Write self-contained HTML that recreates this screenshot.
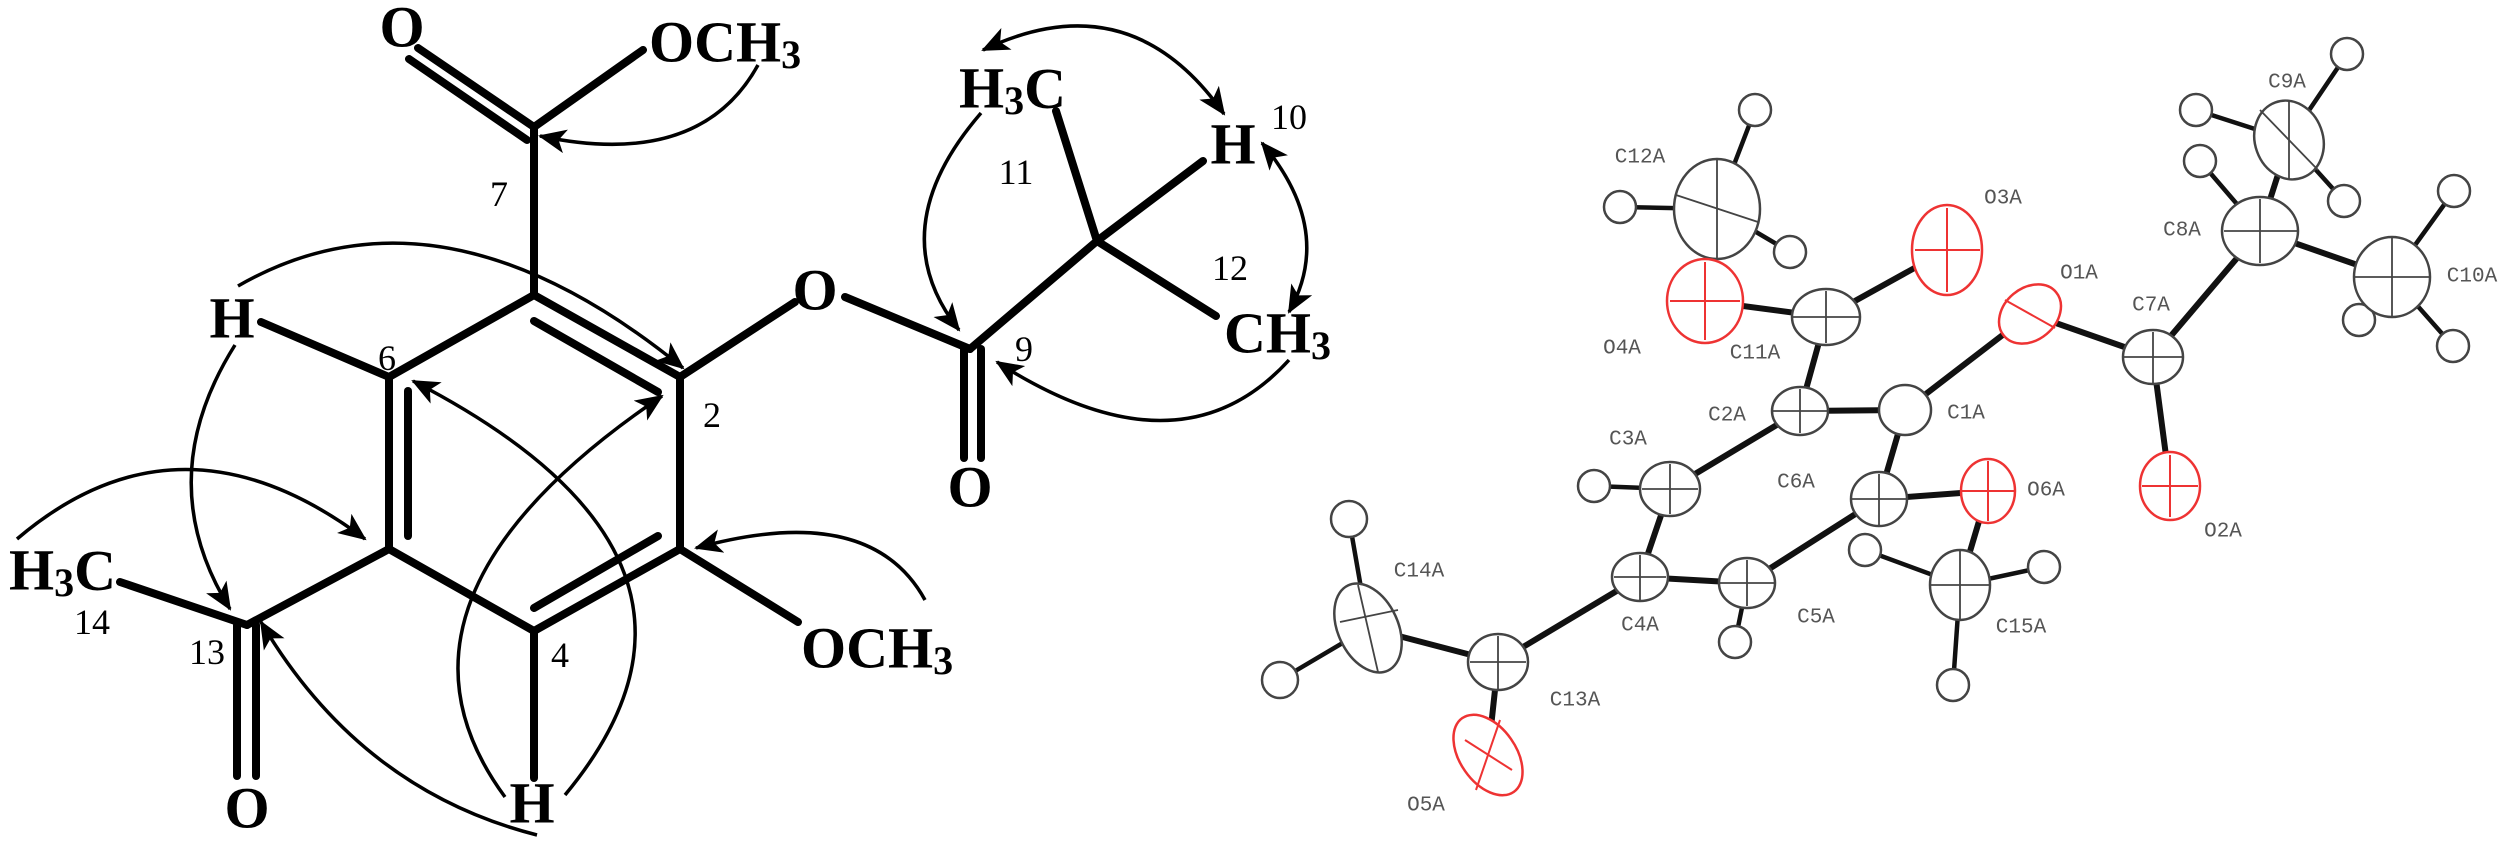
<!DOCTYPE html>
<html><head><meta charset="utf-8"><style>
html,body{margin:0;padding:0;background:#fff;}
svg{display:block;}
.b{stroke:#000;stroke-width:8;stroke-linecap:round;fill:none;}
.a{stroke:#000;stroke-width:3.5;fill:none;}
.at{font-family:"Liberation Serif",serif;font-weight:bold;font-size:58px;fill:#000;}
.n{font-family:"Liberation Serif",serif;font-size:36px;fill:#000;}
.ol{font-family:"Liberation Mono",monospace;font-size:21px;fill:#555;}
.e{fill:#fff;stroke:#444;stroke-width:2.5;}
.r{fill:#fff;stroke:#e33;stroke-width:2.5;}
.h{fill:#fff;stroke:#444;stroke-width:2.5;}
.ob{stroke:#111;stroke-width:6;stroke-linecap:round;}
.hb{stroke:#111;stroke-width:4.5;stroke-linecap:round;}
</style></head><body>
<svg width="2510" height="842" viewBox="0 0 2510 842" xmlns="http://www.w3.org/2000/svg">
<defs>
<marker id="ar" markerUnits="userSpaceOnUse" markerWidth="30" markerHeight="24" refX="26" refY="12" orient="auto-start-reverse">
<path d="M0,0 L28,12 L0,24 L7,12 Z" fill="#000"/>
</marker>
</defs>

<g class="b">
<line x1="534" y1="295" x2="680" y2="377"/>
<line x1="680" y1="377" x2="680" y2="549"/>
<line x1="680" y1="549" x2="534" y2="631"/>
<line x1="534" y1="631" x2="389" y2="549"/>
<line x1="389" y1="549" x2="389" y2="377"/>
<line x1="389" y1="377" x2="534" y2="295"/>
<line x1="534" y1="321" x2="658" y2="392"/>
<line x1="408" y1="391" x2="408" y2="536"/>
<line x1="534" y1="608" x2="658" y2="536"/>
<line x1="534" y1="295" x2="534" y2="127"/>
<line x1="534" y1="127" x2="643" y2="50"/>
<line x1="534" y1="127" x2="418" y2="48"/>
<line x1="527" y1="140" x2="409" y2="59"/>
<line x1="261" y1="322" x2="389" y2="377"/>
<line x1="680" y1="377" x2="795" y2="302"/>
<line x1="680" y1="549" x2="798" y2="622"/>
<line x1="534" y1="631" x2="534" y2="778"/>
<line x1="389" y1="549" x2="247" y2="625"/>
<line x1="120" y1="582" x2="247" y2="625"/>
<line x1="237" y1="625" x2="237" y2="776"/>
<line x1="256" y1="625" x2="256" y2="776"/>
<line x1="845" y1="297" x2="970" y2="349"/>
<line x1="970" y1="349" x2="1097" y2="241"/>
<line x1="1097" y1="241" x2="1056" y2="111"/>
<line x1="1097" y1="241" x2="1203" y2="161"/>
<line x1="1097" y1="241" x2="1216" y2="316"/>
<line x1="964" y1="349" x2="964" y2="458"/>
<line x1="981" y1="349" x2="981" y2="458"/>
</g>

<g class="a">
<path d="M758,65 Q700,170 540,136" marker-end="url(#ar)"/>
<path d="M238,286 Q440,170 683,368" marker-end="url(#ar)"/>
<path d="M235,345 Q150,480 230,609" marker-end="url(#ar)"/>
<path d="M17,539 Q180,400 365,539" marker-end="url(#ar)"/>
<path d="M537,835 Q360,790 261,622" marker-end="url(#ar)"/>
<path d="M505,797 Q360,600 662,396" marker-end="url(#ar)"/>
<path d="M565,795 Q760,560 413,381" marker-end="url(#ar)"/>
<path d="M925,600 Q870,500 696,548" marker-end="url(#ar)"/>
<path d="M983,50 Q1130,-20 1224,114" marker-start="url(#ar)" marker-end="url(#ar)"/>
<path d="M981,113 Q880,230 959,330" marker-end="url(#ar)"/>
<path d="M1262,143 Q1335,230 1289,312" marker-start="url(#ar)" marker-end="url(#ar)"/>
<path d="M1289,360 Q1180,480 997,362" marker-end="url(#ar)"/>
</g>

<g class="at" text-anchor="middle" dominant-baseline="central">
<text x="402" y="27">O</text>
<text x="232" y="318">H</text>
<text x="815" y="290">O</text>
<text x="247" y="808">O</text>
<text x="532" y="803">H</text>
<text x="1233" y="144">H</text>
<text x="970" y="487">O</text>
</g>
<g class="at" dominant-baseline="central">
<text x="649" y="42">OCH<tspan font-size="40" dy="12">3</tspan></text>
<text x="801" y="648">OCH<tspan font-size="40" dy="12">3</tspan></text>
<text x="9" y="570">H<tspan font-size="40" dy="12">3</tspan><tspan dy="-12">C</tspan></text>
<text x="959" y="88">H<tspan font-size="40" dy="12">3</tspan><tspan dy="-12">C</tspan></text>
<text x="1224" y="333">CH<tspan font-size="40" dy="12">3</tspan></text>
</g>
<g class="n" text-anchor="middle" dominant-baseline="central">
<text x="499" y="194">7</text>
<text x="387" y="358">6</text>
<text x="712" y="415">2</text>
<text x="560" y="655">4</text>
<text x="207" y="652">13</text>
<text x="92" y="622">14</text>
<text x="1016" y="172">11</text>
<text x="1289" y="117">10</text>
<text x="1230" y="268">12</text>
<text x="1024" y="349">9</text>
</g>

<g class="ob">
<line x1="1368" y1="628" x2="1498" y2="662"/>
<line x1="1498" y1="662" x2="1640" y2="577"/>
<line x1="1640" y1="577" x2="1747" y2="583"/>
<line x1="1747" y1="583" x2="1879" y2="499"/>
<line x1="1879" y1="499" x2="1905" y2="410"/>
<line x1="1905" y1="410" x2="1800" y2="411"/>
<line x1="1800" y1="411" x2="1670" y2="489"/>
<line x1="1670" y1="489" x2="1640" y2="577"/>
<line x1="1800" y1="411" x2="1826" y2="317"/>
<line x1="1826" y1="317" x2="1705" y2="301"/>
<line x1="1705" y1="301" x2="1717" y2="209"/>
<line x1="1826" y1="317" x2="1947" y2="250"/>
<line x1="1905" y1="410" x2="2030" y2="314"/>
<line x1="2030" y1="314" x2="2153" y2="357"/>
<line x1="2153" y1="357" x2="2170" y2="486"/>
<line x1="2153" y1="357" x2="2260" y2="231"/>
<line x1="2260" y1="231" x2="2289" y2="140"/>
<line x1="2260" y1="231" x2="2392" y2="277"/>
<line x1="1879" y1="499" x2="1988" y2="491"/>
<line x1="1988" y1="491" x2="1960" y2="585"/>
<line x1="1498" y1="662" x2="1488" y2="755"/>
</g>
<g class="hb">
<line x1="1368" y1="628" x2="1349" y2="519"/>
<line x1="1368" y1="628" x2="1280" y2="680"/>
<line x1="1670" y1="489" x2="1594" y2="486"/>
<line x1="1747" y1="583" x2="1735" y2="642"/>
<line x1="1960" y1="585" x2="1865" y2="550"/>
<line x1="1960" y1="585" x2="2044" y2="567"/>
<line x1="1960" y1="585" x2="1953" y2="685"/>
<line x1="1717" y1="209" x2="1755" y2="110"/>
<line x1="1717" y1="209" x2="1620" y2="207"/>
<line x1="1717" y1="209" x2="1790" y2="252"/>
<line x1="2289" y1="140" x2="2347" y2="54"/>
<line x1="2289" y1="140" x2="2196" y2="110"/>
<line x1="2289" y1="140" x2="2344" y2="201"/>
<line x1="2260" y1="231" x2="2200" y2="161"/>
<line x1="2392" y1="277" x2="2454" y2="191"/>
<line x1="2392" y1="277" x2="2453" y2="346"/>
<line x1="2392" y1="277" x2="2359" y2="320"/>
</g>
<g class="h">
<circle cx="1349" cy="519" r="18"/><circle cx="1280" cy="680" r="18"/>
<circle cx="1594" cy="486" r="16"/><circle cx="1735" cy="642" r="16"/>
<circle cx="1865" cy="550" r="16"/><circle cx="2044" cy="567" r="16"/>
<circle cx="1953" cy="685" r="16"/><circle cx="1755" cy="110" r="16"/>
<circle cx="1620" cy="207" r="16"/><circle cx="1790" cy="252" r="16"/>
<circle cx="2347" cy="54" r="16"/><circle cx="2196" cy="110" r="16"/>
<circle cx="2344" cy="201" r="16"/><circle cx="2200" cy="161" r="16"/>
<circle cx="2454" cy="191" r="16"/><circle cx="2453" cy="346" r="16"/>
<circle cx="2359" cy="320" r="16"/>
</g>
<g class="e">
<ellipse cx="1368" cy="628" rx="30" ry="47" transform="rotate(-25 1368 628)"/>
<ellipse cx="1498" cy="662" rx="30" ry="28"/>
<ellipse cx="1640" cy="577" rx="28" ry="24"/>
<ellipse cx="1747" cy="583" rx="28" ry="25"/>
<ellipse cx="1879" cy="499" rx="28" ry="27"/>
<ellipse cx="1905" cy="410" rx="26" ry="25"/>
<ellipse cx="1800" cy="411" rx="28" ry="24"/>
<ellipse cx="1670" cy="489" rx="30" ry="27"/>
<ellipse cx="1826" cy="317" rx="34" ry="28"/>
<ellipse cx="1717" cy="209" rx="43" ry="50"/>
<ellipse cx="2153" cy="357" rx="30" ry="27"/>
<ellipse cx="2260" cy="231" rx="38" ry="34"/>
<ellipse cx="2289" cy="140" rx="34" ry="40" transform="rotate(-20 2289 140)"/>
<ellipse cx="2392" cy="277" rx="38" ry="40"/>
<ellipse cx="1960" cy="585" rx="30" ry="35"/>
</g>
<g class="r">
<ellipse cx="1705" cy="301" rx="38" ry="42"/>
<ellipse cx="1947" cy="250" rx="35" ry="45"/>
<ellipse cx="2030" cy="314" rx="26" ry="34" transform="rotate(50 2030 314)"/>
<ellipse cx="2170" cy="486" rx="30" ry="34"/>
<ellipse cx="1988" cy="491" rx="27" ry="32"/>
<ellipse cx="1488" cy="755" rx="28" ry="45" transform="rotate(-35 1488 755)"/>
</g>
<g stroke="#e33" stroke-width="2">
<line x1="1670" y1="301" x2="1740" y2="301"/><line x1="1705" y1="262" x2="1705" y2="340"/>
<line x1="1947" y1="208" x2="1947" y2="292"/><line x1="1915" y1="250" x2="1980" y2="250"/>
<line x1="2005" y1="300" x2="2055" y2="328"/>
<line x1="2142" y1="486" x2="2198" y2="486"/><line x1="2170" y1="455" x2="2170" y2="517"/>
<line x1="1962" y1="491" x2="2014" y2="491"/><line x1="1988" y1="461" x2="1988" y2="521"/>
<line x1="1465" y1="740" x2="1512" y2="770"/><line x1="1500" y1="720" x2="1476" y2="790"/>
</g>
<g stroke="#444" stroke-width="1.8">
<line x1="1340" y1="622" x2="1398" y2="610"/><line x1="1358" y1="585" x2="1378" y2="672"/>
<line x1="1470" y1="662" x2="1526" y2="662"/><line x1="1498" y1="636" x2="1498" y2="690"/>
<line x1="1614" y1="577" x2="1666" y2="577"/><line x1="1640" y1="555" x2="1640" y2="600"/>
<line x1="1720" y1="583" x2="1775" y2="583"/><line x1="1747" y1="560" x2="1747" y2="606"/>
<line x1="1852" y1="499" x2="1906" y2="499"/><line x1="1879" y1="474" x2="1879" y2="525"/>
<line x1="1773" y1="411" x2="1827" y2="411"/><line x1="1800" y1="389" x2="1800" y2="433"/>
<line x1="1642" y1="489" x2="1698" y2="489"/><line x1="1670" y1="464" x2="1670" y2="514"/>
<line x1="1793" y1="317" x2="1860" y2="317"/><line x1="1826" y1="291" x2="1826" y2="343"/>
<line x1="1676" y1="195" x2="1758" y2="222"/><line x1="1717" y1="160" x2="1717" y2="258"/>
<line x1="2124" y1="357" x2="2182" y2="357"/><line x1="2153" y1="332" x2="2153" y2="383"/>
<line x1="2224" y1="231" x2="2297" y2="231"/><line x1="2260" y1="199" x2="2260" y2="263"/>
<line x1="2260" y1="110" x2="2318" y2="170"/><line x1="2289" y1="101" x2="2289" y2="179"/>
<line x1="2355" y1="277" x2="2429" y2="277"/><line x1="2392" y1="238" x2="2392" y2="316"/>
<line x1="1931" y1="585" x2="1990" y2="585"/><line x1="1960" y1="551" x2="1960" y2="619"/>
</g>
<g class="ol" text-anchor="middle" dominant-baseline="central">
<text x="1640" y="158">C12A</text>
<text x="1622" y="349">O4A</text>
<text x="1755" y="354">C11A</text>
<text x="2003" y="199">O3A</text>
<text x="2079" y="274">O1A</text>
<text x="2151" y="306">C7A</text>
<text x="2182" y="231">C8A</text>
<text x="2287" y="83">C9A</text>
<text x="2472" y="277">C10A</text>
<text x="2223" y="532">O2A</text>
<text x="1966" y="414">C1A</text>
<text x="2046" y="491">O6A</text>
<text x="2021" y="628">C15A</text>
<text x="1727" y="416">C2A</text>
<text x="1796" y="483">C6A</text>
<text x="1628" y="440">C3A</text>
<text x="1640" y="626">C4A</text>
<text x="1816" y="618">C5A</text>
<text x="1575" y="701">C13A</text>
<text x="1426" y="806">O5A</text>
<text x="1419" y="572">C14A</text>
</g>
</svg>
</body></html>
